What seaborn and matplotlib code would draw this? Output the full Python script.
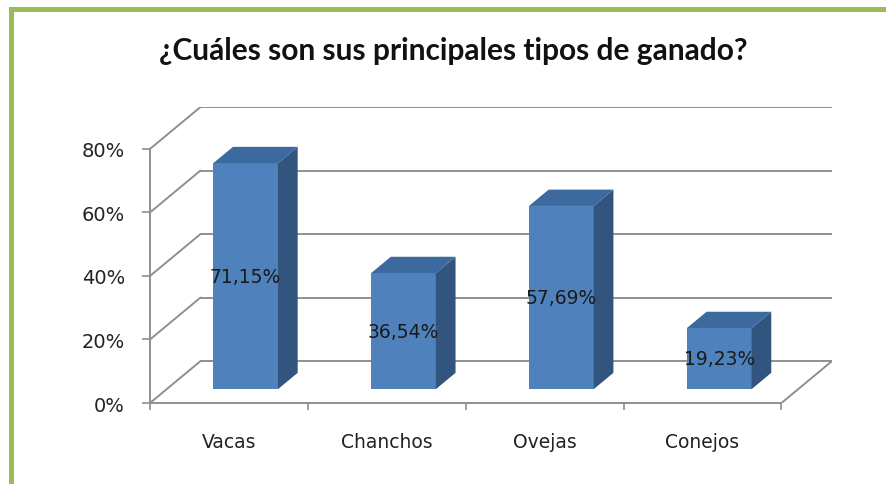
import matplotlib
matplotlib.use("Agg")
import matplotlib.pyplot as plt
from matplotlib.patches import Polygon, Rectangle
import seaborn as sns

# datos
categorias = ["Vacas", "Chanchos", "Ovejas", "Conejos"]
valores = [71.15, 36.54, 57.69, 19.23]
etiquetas = ["71,15%", "36,54%", "57,69%", "19,23%"]
marcas_y = [0, 20, 40, 60, 80]
titulo = "¿Cuáles son sus principales tipos de ganado?"

# colores estilo Excel
azul = "#4F81BD"
azul_lado = "#31557F"
azul_tapa = "#3C6A9F"
gris = "#8F8F8F"
verde = "#9BBB59"

# profundidad falsa 3D (en unidades de datos)
DX, DY = 0.32, 13.2
Z0, Z1 = 0.33, 0.72

sns.set_theme(style="white")
plt.rcParams["font.family"] = ["DejaVu Sans"]

W, H = 887, 485
fig = plt.figure(figsize=(W / 100, H / 100), dpi=100)
ax = fig.add_axes([150 / W, 1 - 404 / H, (832 - 150) / W, (404 - 108) / H])

sns.barplot(x=categorias, y=valores, width=0.41, color=azul,
            saturation=1, ax=ax, zorder=3)

ymax = marcas_y[-1]
x0, x1 = -0.5, len(categorias) - 0.5

# pared del fondo y pared izquierda
for v in marcas_y:
    ax.plot([x0 + DX, x1 + DX], [v + DY, v + DY], color=gris, lw=1.4, zorder=1)
    ax.plot([x0, x0 + DX], [v, v + DY], color=gris, lw=1.4, zorder=1)
ax.plot([x1, x1 + DX], [0, DY], color=gris, lw=1.4, zorder=1)

# caras 3D de las barras
for p, lab in zip(ax.patches, etiquetas):
    bx, bw, bh = p.get_x(), p.get_width(), p.get_height()
    p.set_x(bx + Z0 * DX)
    p.set_y(Z0 * DY)
    p.set_linewidth(0)
    fx0 = bx + Z0 * DX
    fx1 = fx0 + bw
    fy0 = Z0 * DY
    fy1 = fy0 + bh
    dx = (Z1 - Z0) * DX
    dy = (Z1 - Z0) * DY
    lado = Polygon([(fx1, fy0), (fx1 + dx, fy0 + dy), (fx1 + dx, fy1 + dy), (fx1, fy1)],
                   closed=True, facecolor=azul_lado, edgecolor="none", zorder=3)
    tapa = Polygon([(fx0, fy1), (fx1, fy1), (fx1 + dx, fy1 + dy), (fx0 + dx, fy1 + dy)],
                   closed=True, facecolor=azul_tapa, edgecolor="none", zorder=3)
    ax.add_patch(lado)
    ax.add_patch(tapa)
    ax.text((fx0 + fx1) / 2, (fy0 + fy1) / 2, lab, ha="center", va="center",
            fontsize=13.5, color="#1a1a1a", zorder=5)

ax.set_xlim(x0, x1 + DX)
ax.set_ylim(0, ymax + DY)

sns.despine(ax=ax, top=True, right=True)
ax.spines["left"].set_bounds(0, ymax)
ax.spines["bottom"].set_bounds(x0, x1)
for s in ("left", "bottom"):
    ax.spines[s].set_color(gris)
    ax.spines[s].set_linewidth(1.4)

ax.set_yticks(marcas_y)
ax.set_yticklabels([f"{v}%" for v in marcas_y])
ax.tick_params(axis="y", direction="out", length=6, width=1.2, color=gris,
               pad=12, labelsize=14, labelcolor="#222222", left=True)

ax.set_xticks(range(len(categorias)))
ax.set_xticklabels(categorias)
ax.set_xticks([x0 + i for i in range(len(categorias) + 1)], minor=True)
ax.tick_params(axis="x", which="major", length=0, pad=21, labelsize=13.5,
               labelcolor="#222222")
ax.tick_params(axis="x", which="minor", direction="out", length=5, width=1.2,
               color=gris, bottom=True)
ax.set_xlabel("")
ax.set_ylabel("")

fig.text(453 / W, 1 - 51 / H, titulo, ha="center", va="center",
         fontsize=21.5, fontweight="bold", family=["Lato", "DejaVu Sans"],
         color="#111111")

# marco verde
fig.add_artist(Rectangle((11.5 / W, -0.2), 1.2, 1.2 - 9.5 / H,
                         transform=fig.transFigure, fill=False,
                         edgecolor=verde, linewidth=3.6, clip_on=False))

fig.savefig("out.png", dpi=100)
